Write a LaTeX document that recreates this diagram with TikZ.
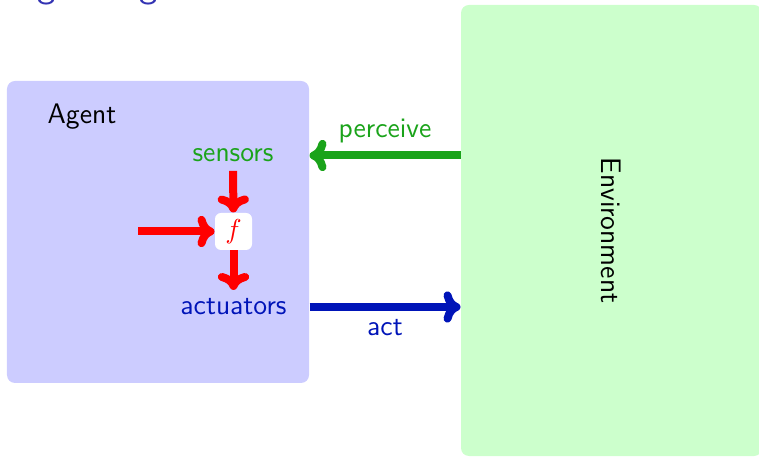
\documentclass[tikz,border=0pt]{standalone}
\usetikzlibrary{arrows.meta}
\definecolor{titleblue}{RGB}{51,51,179}
\definecolor{agentfill}{RGB}{204,204,255}
\definecolor{envfill}{RGB}{204,255,204}
\definecolor{percgreen}{RGB}{26,163,26}
\definecolor{actblue}{RGB}{0,20,184}
\begin{document}
\begin{tikzpicture}[x=0.4pt,y=-0.4pt,
  font=\sffamily\fontsize{11.3}{13.5}\selectfont,
  box/.style={rounded corners=3.2pt, inner sep=0pt, draw=none},
  flow/.style={line width=3.2pt, -{Computer Modern Rightarrow[length=6.8pt,width=12.5pt]}},
  label/.style={inner sep=0.333em}]
\useasboundingbox (0,0) rectangle (759,457);
\node[anchor=base west, inner sep=0pt, text=titleblue,
      font=\sffamily\fontsize{14.8}{18}\selectfont] (title) at (-46.5,-2) {Intelligent Agents};
\node[box, fill=agentfill, minimum width=120.8pt, minimum height=120.8pt] (agent) at (158,232) {};
\node[box, fill=envfill, minimum width=120.4pt, minimum height=180.4pt] (env) at (611.5,230.5) {};
\node[rotate=-90] (envlabel) at (env.center) {Environment};
\node (agentlabel) at (82,117) {Agent};
\node[label, text=percgreen] (sensors) at (233,155.5) {sensors};
\node[box, fill=white, rounded corners=2.4pt, minimum size=14.8pt, text=red] (f) at (233.5,231.5) {$f$};
\node[label, text=actblue] (actuators) at (233.5,307) {actuators};
\coordinate (fin) at (138,231.5);
\draw[flow, red] (sensors) -- (f);
\draw[flow, red] (fin) -- (f);
\draw[flow, red] (f) -- (actuators);
\draw[flow, percgreen] (env.west |- sensors) -- node[above, label, text=percgreen] (perclabel) {perceive} (agent.east |- sensors);
\draw[flow, actblue] (agent.east |- actuators) -- node[below, label, text=actblue] (actlabel) {act} (env.west |- actuators);
\end{tikzpicture}
\end{document}
